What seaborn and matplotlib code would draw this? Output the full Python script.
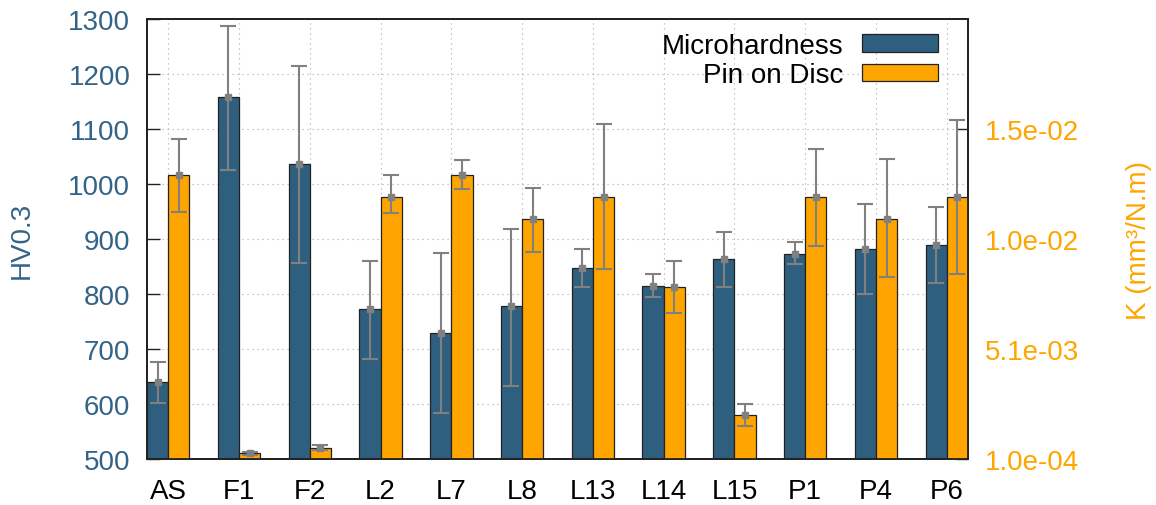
import numpy as np
import pandas as pd
import matplotlib
matplotlib.use("Agg")
import matplotlib.pyplot as plt
from matplotlib.patches import Patch
import seaborn as sns

# ---------------- data ----------------
samples = ["AS", "F1", "F2", "L2", "L7", "L8", "L13", "L14", "L15", "P1", "P4", "P6"]
series = ["Microhardness", "Pin on Disc"]

hv = [640, 1158, 1036, 772, 730, 778, 847, 815, 863, 873, 882, 890]
hv_low = [602, 1025, 857, 682, 583, 633, 812, 795, 813, 855, 800, 820]
hv_high = [677, 1288, 1215, 860, 875, 919, 881, 837, 913, 895, 963, 958]

k = [0.01294, 0.00035, 0.00060, 0.01195, 0.01294, 0.01095, 0.01195, 0.00787, 0.00209, 0.01195, 0.01095, 0.01195]
k_low = [0.01123, 0.00028, 0.00050, 0.01120, 0.01227, 0.00946, 0.00867, 0.00668, 0.00159, 0.00971, 0.00830, 0.00847]
k_high = [0.01455, 0.00043, 0.00072, 0.01291, 0.01358, 0.01232, 0.01522, 0.00906, 0.00258, 0.01411, 0.01363, 0.01540]

hv_ticks = [500, 600, 700, 800, 900, 1000, 1100, 1200, 1300]
k_ticks = [1.0e-4, 5.0667e-3, 1.00333e-2, 1.5e-2]
k_range = (1.0e-4, 1.99667e-2)

BLUE = "#2f5f7e"
BLUE_TXT = "#336487"
ORANGE = "#ffa500"
EDGE = "#222222"
ERR = "#808080"
FS = 20

sns.set_theme(style="white")
plt.rcParams["font.family"] = ["Liberation Sans", "DejaVu Sans"]
plt.rcParams["text.color"] = "black"

fig = plt.figure(figsize=(11.56, 5.06), dpi=100)
ax = fig.add_axes([147 / 1156, 46 / 506, 821 / 1156, 440 / 506])
ax2 = ax.twinx()

df_hv = pd.DataFrame({"sample": samples, "value": hv, "series": series[0]})
df_k = pd.DataFrame({"sample": samples, "value": k, "series": series[1]})
palette = {series[0]: BLUE, series[1]: ORANGE}

sns.barplot(data=df_hv, x="sample", y="value", hue="series", hue_order=series,
            order=samples, palette=palette, width=0.6, saturation=1, dodge=True,
            edgecolor=EDGE, linewidth=0.9, errorbar=None, legend=False, ax=ax)
sns.barplot(data=df_k, x="sample", y="value", hue="series", hue_order=series,
            order=samples, palette=palette, width=0.6, saturation=1, dodge=True,
            edgecolor=EDGE, linewidth=0.9, errorbar=None, legend=False, ax=ax2)

# error bars at the bar centres given by seaborn
def add_err(axis, vals, lo, hi):
    pats = sorted([p for p in axis.patches], key=lambda p: p.get_x())
    xs = [p.get_x() + p.get_width() / 2 for p in pats]
    vals = np.array(vals); lo = np.array(lo); hi = np.array(hi)
    axis.errorbar(xs, vals, yerr=[vals - lo, hi - vals], fmt="s", color=ERR,
                  ecolor=ERR, ms=5, elinewidth=1.5, capsize=6, capthick=1.5, zorder=5)

add_err(ax, hv, hv_low, hv_high)
add_err(ax2, k, k_low, k_high)

# axes ranges and ticks
ax.set_xlim(-0.3, len(samples) - 1 + 0.3)
ax.set_ylim(hv_ticks[0], hv_ticks[-1])
ax.set_yticks(hv_ticks)
ax.set_xticks(range(len(samples)))
ax.set_xticklabels(samples)
ax2.set_ylim(*k_range)
ax2.set_yticks(k_ticks)
ax2.set_yticklabels([f"{v:.1e}" for v in k_ticks])

ax.set_axisbelow(True)
ax.grid(True, axis="both", linestyle=(0, (1, 3.5)), color="#a8a8a8", linewidth=0.8)
ax2.grid(False)

ax.tick_params(axis="y", direction="in", length=9, width=1, color=EDGE,
               labelsize=FS, labelcolor=BLUE_TXT, pad=12, left=True)
ax.tick_params(axis="x", length=0, labelsize=FS, labelcolor="black", pad=14)
ax2.tick_params(axis="y", direction="in", length=9, width=1, color=EDGE,
                labelsize=FS, labelcolor=ORANGE, pad=12, right=True)

ax.set_xlabel("")
ax.set_ylabel("HV0.3", color=BLUE_TXT, fontsize=FS)
ax.yaxis.set_label_coords((35 - 147) / 821, 0.5)
ax2.set_ylabel("K (mm³/N.m)", color=ORANGE, fontsize=FS)
ax2.yaxis.set_label_coords((1126 - 147) / 821, 0.5)

for a in (ax, ax2):
    for s in a.spines.values():
        s.set_visible(True)
        s.set_color(EDGE)
        s.set_linewidth(1.3)

handles = [Patch(facecolor=BLUE, edgecolor=EDGE, linewidth=0.9),
           Patch(facecolor=ORANGE, edgecolor=EDGE, linewidth=0.9)]
leg = ax2.legend(handles, series, loc="upper right", bbox_to_anchor=(938 / 1156, 1 - 34 / 506),
                 bbox_transform=fig.transFigure, markerfirst=False, frameon=False,
                 fontsize=FS, handlelength=2.75, handleheight=0.6, handletextpad=0.65,
                 labelspacing=0.12, borderpad=0, borderaxespad=0)
for t in leg.get_texts():
    t.set_color("black")

fig.savefig("out.png", dpi=100)
